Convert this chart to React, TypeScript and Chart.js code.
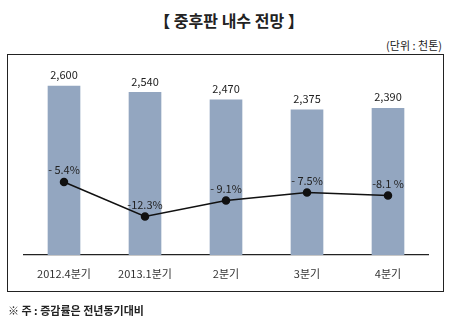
import React, { useEffect, useRef } from "react";
import { Chart, registerables } from "chart.js";

Chart.register(...registerables);

const categories = ["2012.4분기", "2013.1분기", "2분기", "3분기", "4분기"];
const demand = [2600, 2540, 2470, 2375, 2390];
const growth = [-5.4, -12.3, -9.1, -7.5, -8.1];
const demandLabels = ["2,600", "2,540", "2,470", "2,375", "2,390"];
const growthLabels = ["- 5.4%", "-12.3%", "- 9.1%", "- 7.5%", "-8.1 %"];

const FONT = "'Noto Sans CJK KR', 'Noto Sans', sans-serif";

const labelPlugin = {
  id: "valueLabels",
  afterDatasetsDraw(chart: any) {
    const ctx = chart.ctx;
    ctx.save();
    ctx.font = `11px ${FONT}`;
    ctx.fillStyle = "#222";
    ctx.textAlign = "center";
    ctx.textBaseline = "middle";
    const barMeta = chart.getDatasetMeta(1);
    barMeta.data.forEach((el: any, i: number) => {
      ctx.fillText(demandLabels[i], el.x, el.y - 11);
    });
    const lineMeta = chart.getDatasetMeta(0);
    lineMeta.data.forEach((el: any, i: number) => {
      ctx.fillText(growthLabels[i], el.x, el.y - 12);
    });
    ctx.restore();
  },
};

export default function App() {
  const ref = useRef<HTMLCanvasElement>(null);
  useEffect(() => {
    if (!ref.current) return;
    const chart = new Chart(ref.current, {
      type: "bar",
      data: {
        labels: categories,
        datasets: [
          {
            type: "line",
            label: "증감률",
            data: growth,
            yAxisID: "y2",
            borderColor: "#111",
            borderWidth: 1.5,
            pointRadius: 3.5,
            pointBackgroundColor: "#111",
            pointBorderColor: "#111",
            tension: 0,
            order: 0,
          },
          {
            type: "bar",
            label: "내수",
            data: demand,
            yAxisID: "y",
            backgroundColor: "#93a6c0",
            barThickness: 32,
            order: 1,
          },
        ],
      },
      options: {
        responsive: false,
        maintainAspectRatio: false,
        animation: false,
        layout: { padding: { left: 23.5, right: 29.5, top: 65, bottom: 42 } },
        plugins: { legend: { display: false }, tooltip: { enabled: false } },
        scales: {
          x: {
            grid: { display: false, drawTicks: false },
            border: { display: true, color: "#222", width: 1.2 },
            ticks: { color: "#333", font: { family: FONT, size: 11 }, padding: 12, maxRotation: 0 },
            afterFit: (s: any) => {
              s.height = 30;
            },
          },
          y: { display: false, min: 1000, max: 2800 },
          y2: { display: false, min: -20, max: 18, position: "right" },
        },
      },
      plugins: [labelPlugin],
    });
    return () => chart.destroy();
  }, []);

  return (
    <div
      style={{
        position: "absolute",
        left: 0,
        top: 0,
        width: 458,
        height: 327,
        background: "#fff",
        fontFamily: FONT,
        color: "#222",
        overflow: "hidden",
      }}
    >
      <div
        style={{
          position: "absolute",
          left: 0,
          width: 458,
          top: 9,
          textAlign: "center",
          fontSize: 16,
          fontWeight: "bold",
          lineHeight: "22px",
        }}
      >
        【 중후판 내수 전망 】
      </div>
      <div
        style={{
          position: "absolute",
          right: 16,
          top: 37,
          fontSize: 11,
          lineHeight: "16px",
        }}
      >
        (단위 : 천톤)
      </div>
      <div
        style={{
          position: "absolute",
          left: 7,
          top: 54,
          width: 437,
          height: 238,
          boxSizing: "border-box",
          border: "1.5px solid #222",
        }}
      />
      <canvas
        ref={ref}
        width={458}
        height={327}
        style={{ position: "absolute", left: 0, top: 0, width: 458, height: 327 }}
      />
      <div
        style={{
          position: "absolute",
          left: 8,
          top: 302,
          fontSize: 11,
          fontWeight: "bold",
          lineHeight: "16px",
        }}
      >
        ※ 주 : 증감률은 전년동기대비
      </div>
    </div>
  );
}
